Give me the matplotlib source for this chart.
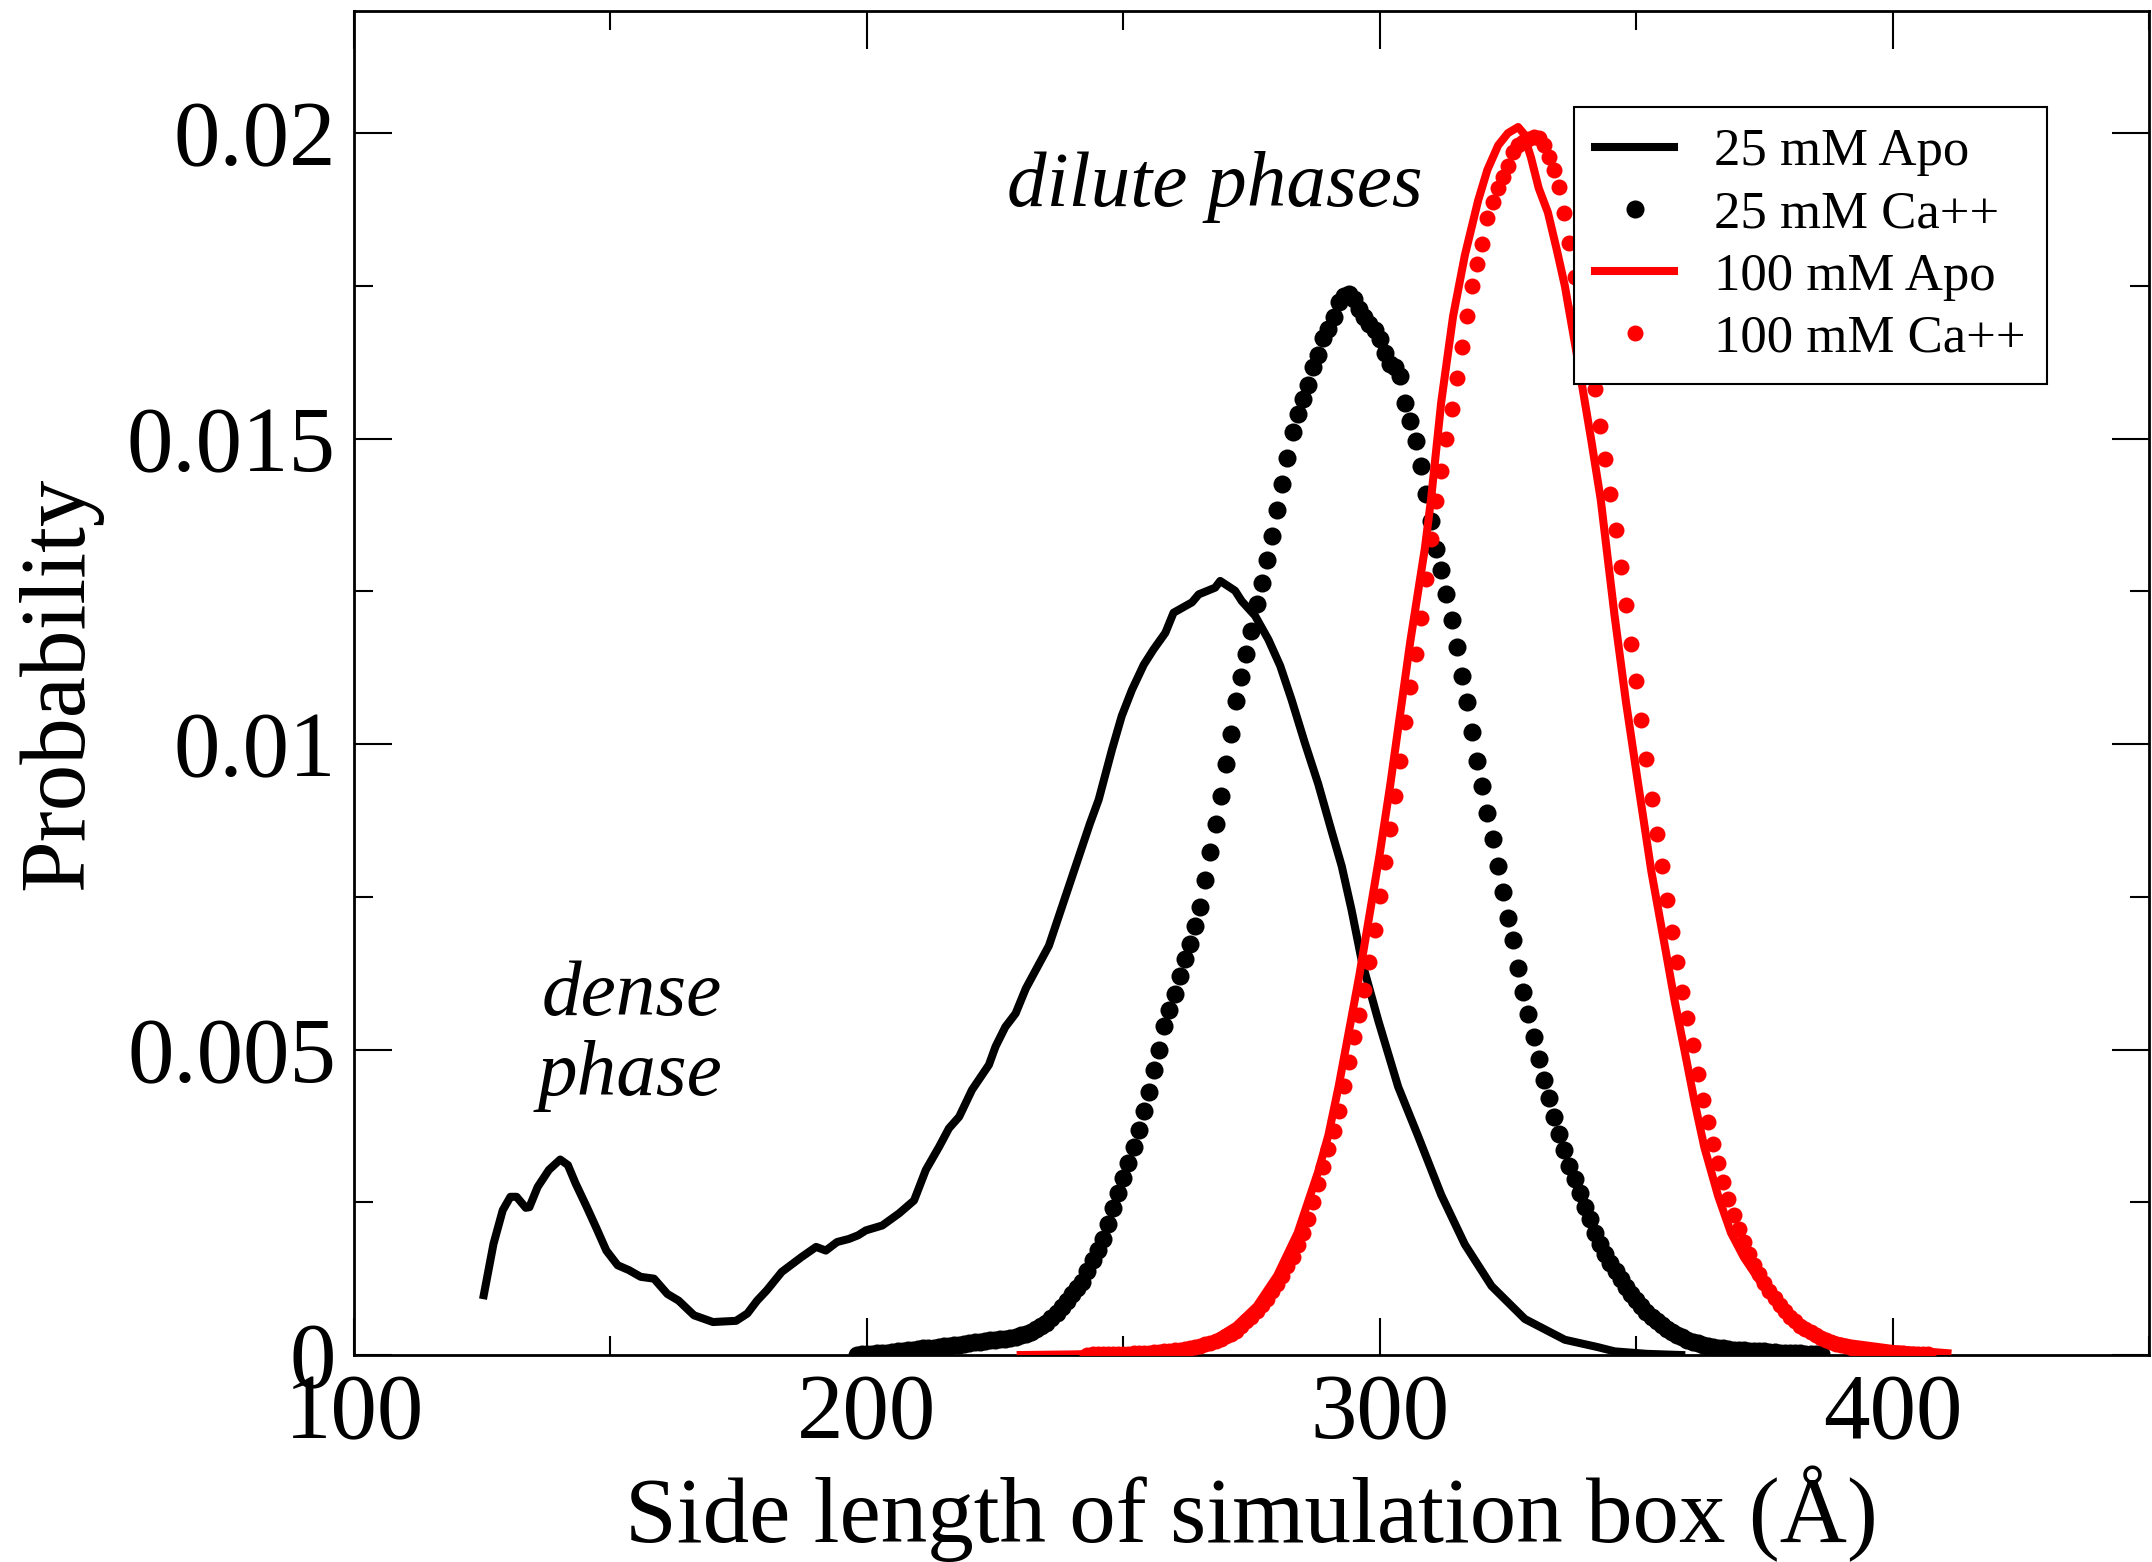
import numpy as np
import matplotlib
matplotlib.use("Agg")
import matplotlib.pyplot as plt
from matplotlib.ticker import MultipleLocator, FuncFormatter

plt.rcParams['font.family'] = ['Liberation Serif', 'DejaVu Serif']
plt.rcParams['mathtext.fontset'] = 'stix'

# 25 mM Apo (solid black line)
apo25_x = [125.3, 127.2, 129.0, 130.5, 131.7, 133.5, 134.2, 135.8, 138.0, 140.2,
           141.7, 143.2, 145.4, 147.3, 149.2, 151.4, 153.6, 155.9, 158.5, 161.1,
           163.3, 166.3, 170.0, 174.5, 176.7, 178.6, 180.5, 183.4, 187.2, 190.1,
           192.0, 194.2, 196.5, 198.3, 199.8, 203.0, 206.3, 209.2, 211.5, 214.1,
           216.0, 218.0, 220.5, 223.8, 225.1, 227.0, 229.0, 231.0, 235.5, 239.5,
           243.5, 245.2, 247.8, 249.7, 251.7, 254.0, 255.9, 258.2, 259.8, 263.4,
           264.7, 267.9, 268.9, 271.8, 273.1, 275.7, 278.3, 280.6, 282.8, 285.4,
           288.0, 290.6, 292.6, 294.5, 296.5, 299.7, 303.6, 307.5, 312.0, 316.6,
           321.8, 328.3, 336.1, 342.5, 345.8, 352.0, 358.8]
apo25_p = [0.00098, 0.00182, 0.00237, 0.00259, 0.00259, 0.00241, 0.00242, 0.00275, 0.00303, 0.00320,
           0.00311, 0.00281, 0.00242, 0.00207, 0.00171, 0.00147, 0.00139, 0.00128, 0.00125, 0.00100,
           0.00089, 0.00065, 0.00054, 0.00056, 0.00068, 0.00089, 0.00106, 0.00136, 0.00160, 0.00177,
           0.00171, 0.00185, 0.00190, 0.00196, 0.00204, 0.00212, 0.00232, 0.00253, 0.00303, 0.00341,
           0.00371, 0.00390, 0.00434, 0.00475, 0.00505, 0.00537, 0.00559, 0.00600, 0.00670, 0.00770,
           0.00870, 0.00909, 0.00991, 0.01046, 0.01089, 0.01130, 0.01155, 0.01182, 0.01215, 0.01232,
           0.01245, 0.01256, 0.01267, 0.01251, 0.01234, 0.01210, 0.01171, 0.01128, 0.01073, 0.01002,
           0.00935, 0.00858, 0.00800, 0.00729, 0.00645, 0.00548, 0.00439, 0.00358, 0.00262, 0.00181,
           0.00113, 0.00059, 0.00025, 0.00013, 0.00006, 0.00002, 0.00000]

# 25 mM Ca++ (black dots), 1 A bins from 198 to 386
ca25_x = np.arange(198, 387)
ca25_p = [0.00000, 0.00001, 0.00002, 0.00002, 0.00003, 0.00004, 0.00004, 0.00005, 0.00006, 0.00007,
          0.00008, 0.00009, 0.00010, 0.00011, 0.00011, 0.00012, 0.00013, 0.00014, 0.00015, 0.00016,
          0.00017, 0.00018, 0.00020, 0.00021, 0.00022, 0.00023, 0.00024, 0.00025, 0.00026, 0.00027,
          0.00028, 0.00030, 0.00032, 0.00035, 0.00038, 0.00042, 0.00047, 0.00053, 0.00060, 0.00069,
          0.00078, 0.00089, 0.00100, 0.00110, 0.00120, 0.00137, 0.00155, 0.00172, 0.00190, 0.00215,
          0.00240, 0.00265, 0.00290, 0.00315, 0.00340, 0.00368, 0.00400, 0.00431, 0.00467, 0.00500,
          0.00538, 0.00565, 0.00591, 0.00621, 0.00648, 0.00673, 0.00703, 0.00733, 0.00778, 0.00823,
          0.00870, 0.00915, 0.00968, 0.01017, 0.01070, 0.01110, 0.01148, 0.01185, 0.01229, 0.01264,
          0.01302, 0.01340, 0.01383, 0.01425, 0.01469, 0.01510, 0.01541, 0.01565, 0.01587, 0.01617,
          0.01637, 0.01664, 0.01680, 0.01699, 0.01723, 0.01734, 0.01736, 0.01729, 0.01712, 0.01699,
          0.01688, 0.01677, 0.01663, 0.01640, 0.01622, 0.01617, 0.01603, 0.01559, 0.01529, 0.01496,
          0.01455, 0.01410, 0.01365, 0.01320, 0.01285, 0.01245, 0.01203, 0.01159, 0.01112, 0.01069,
          0.01020, 0.00972, 0.00931, 0.00887, 0.00845, 0.00801, 0.00758, 0.00715, 0.00680, 0.00633,
          0.00595, 0.00558, 0.00520, 0.00485, 0.00450, 0.00420, 0.00390, 0.00362, 0.00335, 0.00310,
          0.00288, 0.00265, 0.00243, 0.00222, 0.00200, 0.00182, 0.00165, 0.00150, 0.00137, 0.00124,
          0.00112, 0.00100, 0.00090, 0.00080, 0.00071, 0.00063, 0.00056, 0.00049, 0.00043, 0.00038,
          0.00033, 0.00029, 0.00025, 0.00022, 0.00019, 0.00017, 0.00015, 0.00013, 0.00012, 0.00011,
          0.00010, 0.00009, 0.00008, 0.00008, 0.00007, 0.00007, 0.00006, 0.00006, 0.00005, 0.00005,
          0.00004, 0.00004, 0.00004, 0.00003, 0.00003, 0.00002, 0.00002, 0.00001, 0.00001]

# 100 mM Apo (solid red line)
apo100_x = [230, 240, 250, 256, 260, 264, 268, 272, 276, 280,
            284, 288, 290, 292, 294, 296, 298, 300, 302, 304,
            306, 308.8, 310, 312, 314.3, 316.6, 319.2, 321, 323.1, 325,
            327, 328, 329.5, 331, 332.8, 334.5, 336.1, 338.6, 341.2, 343.1,
            345.8, 348, 350.3, 353, 355.8, 357.5, 359.4, 361.5, 363.3, 366,
            368.5, 371, 375, 378, 381.5, 386, 391, 400, 410.7]
apo100_p = [0.0, 0.00001, 0.00003, 0.00006, 0.00009, 0.00015, 0.00027, 0.00048, 0.0008, 0.0013,
            0.0020, 0.0030, 0.0036, 0.0044, 0.0053, 0.0062, 0.0072, 0.0082, 0.0093, 0.0105,
            0.0117, 0.0132, 0.0140, 0.0156, 0.0170, 0.0180, 0.0189, 0.0194, 0.0198, 0.0200,
            0.0201, 0.0200, 0.0196, 0.0191, 0.0187, 0.0181, 0.0175, 0.0163, 0.0150, 0.0140,
            0.0121, 0.0107, 0.0094, 0.0079, 0.0066, 0.0058, 0.0050, 0.0041, 0.0034, 0.0026,
            0.0020, 0.0016, 0.0011, 0.0008, 0.0005, 0.0003, 0.0002, 0.0001, 0.00003]

# 100 mM Ca++ (red dots), 1 A bins from 243 to 407
ca100_x = np.arange(243, 408)
ca100_p = [0.00000, 0.00001, 0.00001, 0.00001, 0.00001, 0.00001, 0.00002, 0.00002, 0.00002, 0.00003,
           0.00003, 0.00004, 0.00004, 0.00005, 0.00005, 0.00006, 0.00007, 0.00008, 0.00009, 0.00010,
           0.00011, 0.00013, 0.00015, 0.00018, 0.00020, 0.00023, 0.00027, 0.00031, 0.00035, 0.00040,
           0.00047, 0.00055, 0.00063, 0.00072, 0.00082, 0.00092, 0.00104, 0.00117, 0.00130, 0.00145,
           0.00160, 0.00180, 0.00200, 0.00222, 0.00250, 0.00280, 0.00308, 0.00338, 0.00367, 0.00400,
           0.00440, 0.00480, 0.00520, 0.00557, 0.00598, 0.00644, 0.00696, 0.00752, 0.00807, 0.00861,
           0.00915, 0.00972, 0.01036, 0.01094, 0.01148, 0.01207, 0.01271, 0.01335, 0.01398, 0.01447,
           0.01500, 0.01548, 0.01600, 0.01650, 0.01700, 0.01750, 0.01786, 0.01819, 0.01861, 0.01887,
           0.01910, 0.01928, 0.01947, 0.01969, 0.01980, 0.01986, 0.01990, 0.01994, 0.01992, 0.01980,
           0.01961, 0.01939, 0.01912, 0.01870, 0.01820, 0.01765, 0.01715, 0.01668, 0.01622, 0.01581,
           0.01521, 0.01466, 0.01409, 0.01350, 0.01290, 0.01228, 0.01163, 0.01103, 0.01040, 0.00976,
           0.00910, 0.00853, 0.00800, 0.00745, 0.00693, 0.00644, 0.00595, 0.00551, 0.00507, 0.00460,
           0.00417, 0.00381, 0.00346, 0.00314, 0.00283, 0.00256, 0.00229, 0.00206, 0.00185, 0.00165,
           0.00148, 0.00132, 0.00118, 0.00105, 0.00093, 0.00082, 0.00072, 0.00063, 0.00055, 0.00048,
           0.00042, 0.00037, 0.00032, 0.00028, 0.00024, 0.00021, 0.00018, 0.00016, 0.00014, 0.00012,
           0.00010, 0.00009, 0.00008, 0.00007, 0.00006, 0.00005, 0.00004, 0.00004, 0.00003, 0.00003,
           0.00002, 0.00002, 0.00002, 0.00001, 0.00001]

fig = plt.figure(figsize=(21.52, 15.62), dpi=100)
ax = fig.add_axes([0.1645, 0.1325, 0.8341, 0.8605])

ax.plot(apo25_x, apo25_p, color='black', lw=5.8, label='25 mM Apo', zorder=2)
ax.plot(ca25_x, ca25_p, 'o', color='black', ms=13, mew=0, label='25 mM Ca++', zorder=3)
ax.plot(apo100_x, apo100_p, color='red', lw=5.8, label='100 mM Apo', zorder=5)
ax.plot(ca100_x, ca100_p, 'o', color='red', ms=11.5, mew=0, label='100 mM Ca++', zorder=4)

ax.set_xlim(100, 450)
ax.set_ylim(0, 0.022)
ax.xaxis.set_major_locator(MultipleLocator(100))
ax.xaxis.set_minor_locator(MultipleLocator(50))
ax.yaxis.set_major_locator(MultipleLocator(0.005))
ax.yaxis.set_minor_locator(MultipleLocator(0.0025))
ax.yaxis.set_major_formatter(FuncFormatter(lambda v, pos: '%g' % round(v, 4)))

ax.tick_params(which='both', direction='in', top=True, right=True, width=1.5,
               labelsize=67, pad=13)
ax.tick_params(which='major', length=27)
ax.tick_params(which='minor', length=13.5)
for s in ax.spines.values():
    s.set_linewidth(2)

ax.set_xlabel('Side length of simulation box (Å)', fontsize=67)
ax.set_ylabel('Probability', fontsize=67)
ax.xaxis.set_label_coords(0.5, -0.082)
ax.yaxis.set_label_coords(-0.14, 0.5)

ax.text(267.8, 0.01881, 'dilute phases', style='italic', fontsize=57, ha='center', va='baseline')
ax.text(154.2, 0.00556, 'dense', style='italic', fontsize=57, ha='center', va='baseline')
ax.text(153.8, 0.004255, 'phase', style='italic', fontsize=57, ha='center', va='baseline')

leg = ax.legend(loc='upper left', bbox_to_anchor=(0.6797, 0.9286), borderaxespad=0,
                fontsize=38, numpoints=1, handlelength=1.5, handletextpad=0.75,
                labelspacing=0.27, borderpad=0.4, fancybox=False, framealpha=1,
                edgecolor='black')
leg.get_frame().set_linewidth(1.5)

fig.savefig('out.png', dpi=100)
